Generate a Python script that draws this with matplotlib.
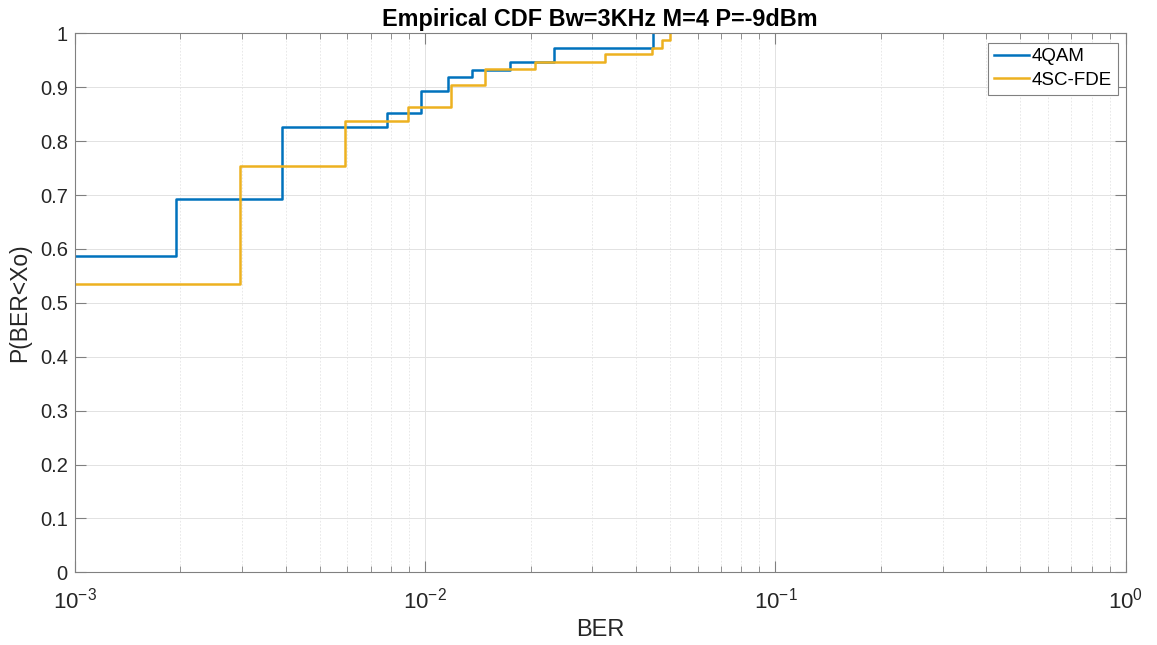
import matplotlib
matplotlib.use("Agg")
import matplotlib.pyplot as plt
from matplotlib.ticker import LogLocator, FixedLocator, FormatStrFormatter, NullFormatter

plt.rcParams['font.family'] = ['Liberation Sans', 'DejaVu Sans']
plt.rcParams['mathtext.default'] = 'regular'
plt.rcParams['axes.unicode_minus'] = False

# empirical CDF steps (BER where the CDF jumps, and the value after the jump)
qam_start = 0.587
qam_ber = [0.00195, 0.0039, 0.00781, 0.00972, 0.01165, 0.01364, 0.01753, 0.02329, 0.04486]
qam_cdf = [0.693, 0.827, 0.853, 0.893, 0.920, 0.933, 0.947, 0.973, 1.0]

fde_start = 0.535
fde_ber = [0.00297, 0.00592, 0.00891, 0.01188, 0.01482, 0.02066, 0.03253, 0.04437, 0.04739, 0.05006]
fde_cdf = [0.754, 0.837, 0.864, 0.905, 0.934, 0.947, 0.961, 0.973, 0.987, 1.0]

x_min, x_max = 1e-3, 1.0
x_ticks = [1e-3, 1e-2, 1e-1, 1e0]
x_labels = ['$10^{-3}$', '$10^{-2}$', '$10^{-1}$', '$10^{0}$']
y_ticks = [0, 0.1, 0.2, 0.3, 0.4, 0.5, 0.6, 0.7, 0.8, 0.9, 1]

fig = plt.figure(figsize=(11.57, 6.45), dpi=100)
ax = fig.add_axes([0.0646, 0.1127, 0.9084, 0.8355])

ax.step([x_min] + qam_ber, [qam_start] + qam_cdf, where='post',
        color='#0072BD', lw=1.8, label='4QAM')
ax.step([x_min] + fde_ber, [fde_start] + fde_cdf, where='post',
        color='#EDB120', lw=1.8, label='4SC-FDE')

ax.set_xscale('log')
ax.set_xlim(x_min, x_max)
ax.set_ylim(0, 1)
ax.xaxis.set_major_locator(FixedLocator(x_ticks))
ax.set_xticklabels(x_labels)
ax.xaxis.set_minor_locator(LogLocator(base=10, subs=range(2, 10), numticks=20))
ax.xaxis.set_minor_formatter(NullFormatter())
ax.yaxis.set_major_locator(FixedLocator(y_ticks))
ax.yaxis.set_major_formatter(FormatStrFormatter('%g'))

axis_col = '#262626'
for s in ax.spines.values():
    s.set_color('#808080')
    s.set_linewidth(0.8)
ax.tick_params(which='both', direction='in', top=True, right=True,
               colors='#808080', labelcolor=axis_col, labelsize=14.5)
ax.tick_params(which='major', length=8, width=0.8)
ax.tick_params(which='minor', length=4, width=0.6)
ax.tick_params(axis='x', which='major', pad=11, labelsize=16)
ax.tick_params(axis='y', pad=5)

ax.grid(True, which='major', color='#e2e2e2', lw=0.7)
ax.grid(True, which='minor', axis='x', color='#e4e4e4', lw=0.6, ls=(0, (2, 2)))
ax.set_axisbelow(True)

ax.set_xlabel('BER', fontsize=17, color=axis_col, labelpad=4)
ax.set_ylabel('P(BER<Xo)', fontsize=16.5, color=axis_col, labelpad=6)
ax.set_title('Empirical CDF Bw=3KHz M=4 P=-9dBm', fontsize=16.8,
             fontweight='bold', pad=5)

leg = ax.legend(loc='upper right', fontsize=13.5, fancybox=False,
                framealpha=1, edgecolor='#808080', borderpad=0.3,
                handlelength=1.9, handletextpad=0.15, labelspacing=0.35,
                borderaxespad=0, bbox_to_anchor=(0.9925, 0.983))
leg.get_frame().set_linewidth(0.8)

fig.savefig('out.png', dpi=100)
